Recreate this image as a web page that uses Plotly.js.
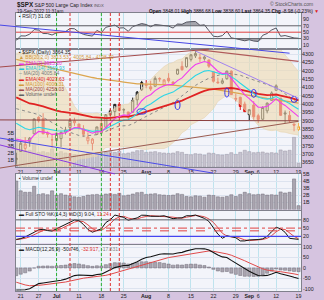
<!DOCTYPE html>
<html><head><meta charset="utf-8">
<script src="https://cdn.plot.ly/plotly-3.0.1.min.js"></script>
<style>html,body{margin:0;padding:0;background:#d6c4e0;}#chart{width:324px;height:300px;}</style>
</head><body><div id="chart"></div>
<script>
// ---- history closes (Jan 3 - May 18, 2022), used only for indicator warm-up
const histClose = [4796.56,4793.54,4700.58,4696.05,4677.03,4670.29,4713.07,4726.35,4659.03,4662.85,4577.11,4532.76,4482.73,4397.94,4410.13,4356.45,4349.93,4326.51,4431.85,4515.55,
4546.54,4589.38,4477.44,4500.53,4483.87,4521.54,4587.18,4504.08,4418.64,4401.67,4471.07,4475.01,4380.26,4348.87,4304.76,4225.50,4288.70,4384.65,4373.94,
4306.26,4386.54,4363.49,4328.87,4201.09,4170.70,4277.88,4259.52,4204.31,4173.11,4262.45,4357.86,4411.67,4463.12,4461.18,4511.61,4456.24,4520.16,4543.06,4575.52,4631.60,4602.45,4530.41,
4545.86,4582.64,4525.12,4481.15,4500.21,4488.28,4412.53,4397.45,4446.59,4392.59,4391.69,4462.21,4459.45,4393.66,4271.78,4296.12,4175.20,4183.96,4287.50,4131.93,
4155.38,4175.48,4300.17,4146.87,4123.34,3991.24,4001.05,3935.18,3930.08,4023.89,4008.01,4088.85,3923.68];
// ---- May 19 - Jun 16, 2022
const preDates = ['2022-05-19','2022-05-20','2022-05-23','2022-05-24','2022-05-25','2022-05-26','2022-05-27','2022-05-31','2022-06-01','2022-06-02','2022-06-03','2022-06-06','2022-06-07','2022-06-08','2022-06-09','2022-06-10','2022-06-13','2022-06-14','2022-06-15','2022-06-16'];
const preHigh = [3945.96,3943.42,3981.88,3955.68,3999.33,4075.14,4158.49,4168.34,4166.54,4177.51,4142.67,4168.78,4164.86,4160.14,4119.10,3974.39,3838.15,3778.18,3837.56,3728.18];
const preLow = [3876.17,3810.32,3909.04,3875.13,3925.03,3984.60,4077.43,4104.88,4073.85,4074.37,4098.67,4109.18,4080.19,4107.20,4017.17,3900.16,3734.30,3724.57,3722.30,3639.77];
const preClose = [3900.79,3901.36,3973.75,3941.48,3978.73,4057.84,4158.24,4132.15,4101.23,4176.82,4108.54,4121.43,4160.68,4115.77,4017.82,3900.86,3749.63,3735.48,3789.99,3666.77];
// ---- displayed days
const dates = ['2022-06-17','2022-06-21','2022-06-22','2022-06-23','2022-06-24','2022-06-27','2022-06-28','2022-06-29','2022-06-30','2022-07-01','2022-07-05','2022-07-06','2022-07-07','2022-07-08','2022-07-11','2022-07-12','2022-07-13','2022-07-14','2022-07-15','2022-07-18','2022-07-19','2022-07-20','2022-07-21','2022-07-22','2022-07-25','2022-07-26','2022-07-27','2022-07-28','2022-07-29','2022-08-01','2022-08-02','2022-08-03','2022-08-04','2022-08-05','2022-08-08','2022-08-09','2022-08-10','2022-08-11','2022-08-12','2022-08-15','2022-08-16','2022-08-17','2022-08-18','2022-08-19','2022-08-22','2022-08-23','2022-08-24','2022-08-25','2022-08-26','2022-08-29','2022-08-30','2022-08-31','2022-09-01','2022-09-02','2022-09-06','2022-09-07','2022-09-08','2022-09-09','2022-09-12','2022-09-13','2022-09-14','2022-09-15','2022-09-16','2022-09-19'];
const open = [3665.90,3715.31,3733.89,3774.71,3821.75,3920.76,3913.00,3825.09,3785.99,3781.00,3792.61,3831.98,3858.85,3888.26,3880.94,3851.95,3779.67,3763.99,3818.00,3883.79,3860.73,3935.32,3955.47,3998.43,3965.72,3953.22,3951.43,4026.13,4087.33,4112.38,4104.21,4107.96,4154.85,4115.87,4155.93,4133.11,4181.02,4227.40,4225.02,4269.37,4290.46,4280.40,4273.13,4266.31,4195.08,4133.09,4126.55,4153.26,4198.74,4034.58,4041.25,4000.67,3936.73,3994.66,3930.89,3909.43,3959.94,4022.94,4083.67,4037.12,3940.73,3932.41,3880.95,3848.01];
const high = [3707.71,3779.65,3801.79,3802.58,3913.65,3927.72,3945.86,3836.50,3818.99,3829.82,3832.19,3863.62,3910.63,3918.50,3880.94,3873.41,3829.44,3796.41,3863.62,3902.44,3939.81,3974.13,3999.29,4012.44,3975.30,3953.22,4039.56,4078.95,4140.15,4144.95,4140.47,4167.66,4161.29,4151.58,4186.62,4137.30,4211.03,4257.91,4280.47,4301.79,4325.28,4302.18,4292.53,4266.31,4195.08,4159.77,4156.56,4200.54,4203.04,4062.99,4044.98,4015.37,3970.23,4018.43,3942.55,3987.89,4010.50,4076.81,4119.28,4037.12,3961.94,3959.14,3880.95,3886.68];
const low = [3636.87,3715.31,3717.69,3743.52,3821.75,3889.66,3820.14,3799.02,3738.67,3752.10,3742.06,3817.18,3858.85,3869.34,3847.22,3802.36,3759.07,3721.56,3817.18,3818.63,3860.73,3922.03,3927.64,3955.77,3943.46,3910.74,3951.43,3992.97,4079.22,4096.02,4079.81,4107.96,4135.42,4107.31,4128.97,4112.09,4177.26,4201.41,4219.78,4256.90,4277.77,4253.08,4261.98,4218.70,4129.86,4124.03,4119.97,4147.59,4057.66,4017.42,3965.21,3954.53,3903.65,3906.21,3886.75,3906.03,3944.81,4022.94,4083.67,3932.41,3886.13,3888.28,3837.08,3838.60];
const close = [3674.84,3764.79,3759.89,3795.73,3911.74,3900.11,3821.55,3818.83,3785.38,3825.33,3831.39,3845.08,3902.62,3899.38,3854.43,3818.80,3801.78,3790.38,3863.16,3830.85,3936.69,3959.90,3998.95,3961.63,3966.84,3921.05,4023.61,4072.43,4130.29,4118.63,4091.19,4155.17,4151.94,4145.19,4140.06,4122.47,4210.24,4207.27,4280.15,4297.14,4305.20,4274.04,4283.74,4228.48,4137.99,4128.73,4140.77,4199.12,4057.66,4030.61,3986.16,3955.00,3966.85,3924.26,3908.19,3979.87,4006.18,4067.36,4110.41,3932.69,3946.01,3901.35,3873.33,3864.35];
// volume, billions of shares
const volumeB = [4.05,2.65,2.45,2.45,3.30,2.15,2.25,2.10,2.65,2.05,2.25,2.05,1.95,1.80,1.75,1.85,2.05,2.10,2.15,2.05,2.20,2.25,2.15,2.30,1.95,2.05,2.20,2.40,2.45,2.15,2.20,2.25,2.10,2.05,2.00,2.05,2.25,2.15,1.85,1.80,1.95,1.90,1.75,2.05,2.00,1.80,1.75,1.85,2.10,1.85,2.15,2.45,2.25,2.10,2.15,2.20,2.05,2.10,2.05,2.50,2.35,2.45,4.35,0.55];
// 200-day MA (only the part inside the panel)
const ma200 = [null,null,null,null,null,null,null,null,null,null,null,null,null,null,null,null,null,null,null,null,null,null,null,null,null,null,null,null,null,null,null,null,null,null,null,null,null,
4339,4336,4332,4329,4326,4324,4321,4318,4315,4311,4308,4306,4302,4299,4297,4293,4290,4287,4285,4282,4278,4275,4272,4268,4265,4261,4258];
// x axis labels
const tickDates = ['2022-06-21','2022-06-27','2022-07-01','2022-07-11','2022-07-18','2022-07-25','2022-08-01','2022-08-08','2022-08-15','2022-08-22','2022-08-29','2022-09-01','2022-09-06','2022-09-12','2022-09-19'];
const tickLabels = ['21','27','<b>Jul</b>','11','18','25','<b>Aug</b>','8','15','22','29','<b>Sep</b>','6','12','19'];
// chart annotations
const greenLineDates = ['2022-07-01','2022-07-18'];
const redLineDates = ['2022-07-07','2022-07-20','2022-07-22'];
const circleDates = ['2022-07-29','2022-08-10','2022-08-25','2022-09-02','2022-09-16'];
const circleValues = [3956,3995,4070,4065,4029];
const trendPanels = ['rsi','main','main','main','main','main','main'];
const trendFrom = [['2022-06-17',67.3],['2022-06-17',4232],['2022-06-17',3905],['2022-06-17',3631],['2022-06-17',3780],['2022-06-17',3730],['2022-08-16',4320]];
const trendTo = [['2022-09-15',-15.7],['2022-08-19',4331],['2022-09-19',3900],['2022-09-19',3897],['2022-08-22',3585],['2022-07-21',3580],['2022-09-19',4035]];

// ---------------- computations ----------------
const allClose = histClose.concat(preClose, close);
const off = histClose.length + preClose.length;
const N = dates.length;
const xs = dates.map((d,k)=>k);
function emaSeries(src,n){const a=2/(n+1);const out=[];let e=src[0];src.forEach((v,k)=>{e=k?e+a*(v-e):v;out.push(e);});return out;}
function smaAt(src,k,n){if(k<n-1)return null;let s=0;for(let j=k-n+1;j<=k;j++)s+=src[j];return s/n;}
function sdAt(src,k,n,m){let s=0;for(let j=k-n+1;j<=k;j++)s+=(src[j]-m)*(src[j]-m);return Math.sqrt(s/n);}
const disp = a => a.slice(off);
const e7 = disp(emaSeries(allClose,7)), e14 = disp(emaSeries(allClose,14)), e40 = disp(emaSeries(allClose,40));
const ma20 = xs.map(k=>smaAt(allClose,k+off,20));
const ma100 = xs.map(k=>smaAt(allClose,k+off,100));
const bbUp = xs.map(k=>ma20[k]+2*sdAt(allClose,k+off,20,ma20[k]));
const bbLo = xs.map(k=>ma20[k]-2*sdAt(allClose,k+off,20,ma20[k]));
// RSI(7)
const rsiAll=[];let ag=0,al=0;
for(let k=0;k<allClose.length;k++){
  if(k===0){rsiAll.push(null);continue;}
  const ch=allClose[k]-allClose[k-1],g=Math.max(ch,0),l=Math.max(-ch,0);
  if(k<=7){ag+=g/7;al+=l/7;rsiAll.push(k===7?100-100/(1+ag/al):null);}
  else{ag=(ag*6+g)/7;al=(al*6+l)/7;rsiAll.push(100-100/(1+ag/al));}
}
const rsi = disp(rsiAll);
// MACD
const e12a=emaSeries(allClose,12), e26a=emaSeries(allClose,26);
const macdAll=e12a.map((v,k)=>v-e26a[k]);
const sigAll=emaSeries(macdAll,9);
const macd=disp(macdAll), sig=disp(sigAll), macdHist=macd.map((v,k)=>v-sig[k]);
// Full STO 14,3,3
const hH=preHigh.concat(high), hL=preLow.concat(low), hC=preClose.concat(close);
const fastK=hC.map((c,k)=>{if(k<13)return null;let hh=-1e9,ll=1e9;for(let j=k-13;j<=k;j++){hh=Math.max(hh,hH[j]);ll=Math.min(ll,hL[j]);}return 100*(c-ll)/(hh-ll);});
const sma3=a=>a.map((v,k)=>(k>=2&&a[k]!=null&&a[k-1]!=null&&a[k-2]!=null)?(a[k]+a[k-1]+a[k-2])/3:null);
const fullK=sma3(fastK), fullD=sma3(fullK);
const stoK=fullK.slice(preClose.length), stoD=fullD.slice(preClose.length);

// ---------------- layout geometry ----------------
const L=16,R=301,T=13,B=291;
const pX=x=>(x-L)/(R-L), pY=y=>(B-y)/(B-T);
const xr=[-0.05,63.55];
const dom={rsi:[pY(48.5),1],main:[pY(167),pY(49)],vol:[pY(209.5),pY(174)],sto:[pY(243.5),pY(210.5)],macd:[0,pY(244.5)]};
const yr={rsi:[-1,110],main:[3622,4332],vol:[0,5.05],sto:[-6,114],macd:[-111,113]};
const tickvals=tickDates.map(d=>dates.indexOf(d));
const FONT='Liberation Sans, Arial, sans-serif';
const gridX='#bfe3ee', borderC='#80808c';

function xaxis(anchor,labels,extra){return Object.assign({domain:[0,1],anchor,range:xr,tickvals,ticktext:tickLabels,showticklabels:labels,ticks:'',
  showgrid:true,gridcolor:gridX,gridwidth:1,zeroline:false,showline:true,mirror:true,linecolor:borderC,linewidth:1,
  tickfont:{size:5.3,color:'#222',family:FONT},fixedrange:true,rangeslider:{visible:false}},extra||{});}
function yaxis(d,r,vals,text,extra){return Object.assign({domain:d,range:r,side:'right',tickvals:vals,ticktext:text,ticks:'',
  showgrid:false,gridcolor:'#dde3ef',zeroline:false,showline:true,mirror:true,linecolor:borderC,linewidth:1,
  tickfont:{size:5.3,color:'#222',family:FONT},fixedrange:true},extra||{});}

const priceTicks=[];for(let v=3650;v<=4300;v+=50)priceTicks.push(v);

const traces=[];
// overlay volume in price panel
traces.push({type:'bar',x:xs,y:volumeB,xaxis:'x2',yaxis:'y2',marker:{color:'#c6c3cf',line:{color:'#9d99a6',width:0.5}},hoverinfo:'skip'});
// Bollinger band
traces.push({type:'scatter',mode:'lines',x:xs,y:bbLo,xaxis:'x2',yaxis:'y6',line:{color:'#e6d3b0',width:0.6},hoverinfo:'skip'});
traces.push({type:'scatter',mode:'lines',x:xs,y:bbUp,xaxis:'x2',yaxis:'y6',fill:'tonexty',fillcolor:'rgba(238,218,178,0.62)',line:{color:'#e6d3b0',width:0.6},hoverinfo:'skip'});
const lineT=(y,c,w,dash)=>({type:'scatter',mode:'lines',x:xs,y,xaxis:'x2',yaxis:'y6',line:{color:c,width:w,dash:dash||'solid'},hoverinfo:'skip'});
traces.push(lineT(ma100,'#dca650',1.3));
traces.push(lineT(ma200,'#b05a5a',1.2));
traces.push(lineT(ma20,'#8a8a8a',1,'dot'));
traces.push(lineT(e40,'#e02222',1.8));
traces.push(lineT(e14,'#2cd6e6',1.1));
traces.push(lineT(e7,'#f03cf0',1.1));
// candles
const prevC=k=>k?close[k-1]:preClose[preClose.length-1];
function candle(idx,col){
  return {type:'candlestick',x:idx,open:idx.map(k=>open[k]),high:idx.map(k=>high[k]),low:idx.map(k=>low[k]),close:idx.map(k=>close[k]),
    xaxis:'x2',yaxis:'y6',whiskerwidth:0,hoverinfo:'skip',
    increasing:{line:{color:col,width:1},fillcolor:'#ffffff'},decreasing:{line:{color:col,width:1},fillcolor:col}};
}
traces.push(candle(xs.filter(k=>k<N-1&&close[k]>=prevC(k)),'#111111'));
traces.push(candle(xs.filter(k=>k<N-1&&close[k]<prevC(k)),'#e01818'));
traces.push(candle([N-1],'#f0a020'));
// RSI
traces.push({type:'scatter',mode:'lines',x:xs,y:xs.map(()=>70),xaxis:'x3',yaxis:'y3',line:{width:0},hoverinfo:'skip'});
traces.push({type:'scatter',mode:'lines',x:xs,y:rsi.map(v=>Math.max(v,70)),xaxis:'x3',yaxis:'y3',fill:'tonexty',fillcolor:'rgba(100,100,110,0.55)',line:{width:0},hoverinfo:'skip'});
traces.push({type:'scatter',mode:'lines',x:xs,y:xs.map(()=>30),xaxis:'x3',yaxis:'y3',line:{width:0},hoverinfo:'skip'});
traces.push({type:'scatter',mode:'lines',x:xs,y:rsi.map(v=>Math.min(v,30)),xaxis:'x3',yaxis:'y3',fill:'tonexty',fillcolor:'rgba(100,100,110,0.55)',line:{width:0},hoverinfo:'skip'});
traces.push({type:'scatter',mode:'lines',x:xs,y:rsi,xaxis:'x3',yaxis:'y3',line:{color:'#555560',width:1},hoverinfo:'skip'});
// volume panel
traces.push({type:'bar',x:xs,y:volumeB,xaxis:'x4',yaxis:'y4',marker:{color:'#aaa5b0',line:{color:'#6f6a76',width:0.5}},hoverinfo:'skip'});
// STO
traces.push({type:'scatter',mode:'lines',x:xs,y:stoD,xaxis:'x5',yaxis:'y5',line:{color:'#e04a4a',width:1},hoverinfo:'skip'});
traces.push({type:'scatter',mode:'lines',x:xs,y:stoK,xaxis:'x5',yaxis:'y5',line:{color:'#111',width:1},hoverinfo:'skip'});
// MACD
traces.push({type:'bar',x:xs,y:macdHist,xaxis:'x',yaxis:'y',marker:{color:'#aaa5b0',line:{color:'#6f6a76',width:0.5}},hoverinfo:'skip'});
traces.push({type:'scatter',mode:'lines',x:xs,y:sig,xaxis:'x',yaxis:'y',line:{color:'#e04a4a',width:1},hoverinfo:'skip'});
traces.push({type:'scatter',mode:'lines',x:xs,y:macd,xaxis:'x',yaxis:'y',line:{color:'#111',width:1.1},hoverinfo:'skip'});

// ---------------- shapes ----------------
const shapes=[];
const hline=(yref,v,c,w,dash)=>({type:'line',xref:'paper',x0:0,x1:1,yref,y0:v,y1:v,line:{color:c,width:w,dash:dash||'solid'},layer:'above'});
shapes.push(hline('y3',70,'#606068',1),hline('y3',50,'#e04040',1),hline('y3',30,'#606068',1));
shapes.push(hline('y5',80,'#606068',1),hline('y5',50,'#e04040',1,'dashdot'),hline('y5',40,'#e04040',1,'dash'),hline('y5',20,'#4545f0',1.2));
greenLineDates.forEach(d=>{const k=dates.indexOf(d);shapes.push({type:'line',xref:'x',x0:k,x1:k,yref:'paper',y0:0,y1:1,line:{color:'#30b030',width:1,dash:'3px,2px'},layer:'above'});});
redLineDates.forEach(d=>{const k=dates.indexOf(d);shapes.push({type:'line',xref:'x',x0:k,x1:k,yref:'paper',y0:0,y1:1,line:{color:'#e03030',width:1,dash:'3px,2px'},layer:'above'});});
const circW=[2.1,1.1,0.9,1.1,1.3], circH=[32,54,54,48,36];
circleDates.forEach((d,j)=>{const k=dates.indexOf(d);shapes.push({type:'circle',xref:'x2',yref:'y6',x0:k-circW[j]/2,x1:k+circW[j]/2,y0:circleValues[j]-circH[j]/2,y1:circleValues[j]+circH[j]/2,line:{color:'#3636ee',width:1},layer:'above'});});
const trendColors=['#4646e6','#a44a4a','#8c4040','#9a5a50','#4a4ae8','#8a3ae0','#a383f0'];
const trendExtend=[true,true,true,true,true,true,false];
function toPaper(panel,k,v){const d=dom[panel],r=yr[panel];return [(k-xr[0])/(xr[1]-xr[0]),d[0]+(v-r[0])/(r[1]-r[0])*(d[1]-d[0])];}
trendFrom.forEach((f,j)=>{
  let a=toPaper(trendPanels[j],dates.indexOf(f[0]),f[1]), b=toPaper(trendPanels[j],dates.indexOf(trendTo[j][0]),trendTo[j][1]);
  if(trendExtend[j]){const x0=-L/(R-L);const s=(b[1]-a[1])/(b[0]-a[0]);a=[x0,a[1]+s*(x0-a[0])];}
  shapes.push({type:'line',xref:'paper',yref:'paper',x0:a[0],y0:a[1],x1:b[0],y1:b[1],line:{color:trendColors[j],width:1},layer:'above'});
});

// ---------------- text ----------------
const ann=[];
const txt=(x,y,t,size,col,anchor)=>ann.push({xref:'paper',yref:'paper',x:pX(x),y:pY(y),text:t,showarrow:false,xanchor:anchor||'left',yanchor:'middle',font:{size:size,color:col||'#1a1a1a',family:FONT}});
txt(15,5,'<b><span style="font-size:6.3px">$SPX</span></b> S&amp;P 500 Large Cap Index <span style="font-size:4.2px;color:#555">INDX</span>',5);
txt(15,11,'19-Sep-2022 11:31am',4.7,'#222');
txt(315,4,'© StockCharts.com',5,'#555','right');
txt(321,11,'<b>Open</b> 3848.01 <b>High</b> 3886.68 <b>Low</b> 3838.60 <b>Last</b> 3864.35 <b>Chg</b> -8.98 (-0.23%) <span style="color:#e02020">▼</span>',4.8,'#111','right');
txt(17,15.5,'▪ RSI(7) 31.08',5,'#222');
const leg=[['▪ $SPX (Daily) 3864.35','#1a1a1a'],['▲ BB(20,2.0) 3813.53 - 4005.84 - 4198.30','#d49a3c'],['▬ EMA(7) 3925.20','#e832e8'],
 ['▬ EMA(14) '+e14[N-1].toFixed(2),'#1fc4d6'],['┄ MA(20) 4005.84','#7a7a7a'],['▬ EMA(40) 4027.63','#e01e1e'],['▬ MA(100) 4006.31','#d49a3c'],['▬ MA(200) 4258.03','#a04646'],['▬ Volume undef','#606060']];
leg.forEach((r,j)=>txt(17,52+j*5.3,r[0],5,r[1]));
txt(17,177.8,'▪ Volume undef',5,'#333');
txt(17,213.5,'▬ Full STO %K(14,3) %D(3) 9.04, <span style="color:#e03030">11.24</span>',5,'#222');
txt(17,248.5,'▬ MACD(12,26,9) -50.746, <span style="color:#e03030">-32.917</span>, <span style="color:#888">-17.831</span>',5,'#222');

const layout={
  width:324,height:300,margin:{l:L,r:324-R,t:T,b:300-B,pad:0},
  paper_bgcolor:'#d6c4e0',plot_bgcolor:'#f3f4fa',showlegend:false,
  bargap:0.3,boxgap:0.35,
  font:{family:FONT,size:5.3,color:'#222'},
  xaxis:xaxis('y',true),
  xaxis2:xaxis('y2',true,{matches:'x'}),
  xaxis3:xaxis('y3',false,{matches:'x'}),
  xaxis4:xaxis('y4',false,{matches:'x'}),
  xaxis5:xaxis('y5',false,{matches:'x'}),
  yaxis:yaxis(dom.macd,yr.macd,[100,50,0,-50,-100],['100','50','0','-50','-100'],{anchor:'x',showgrid:true}),
  yaxis2:yaxis(dom.main,[0,17.3],[1,2,3,4,5],['1B','2B','3B','4B','5B'],{anchor:'x2',side:'left'}),
  yaxis3:yaxis(dom.rsi,yr.rsi,[10,30,50,70,90],['10','30','50','70','90'],{anchor:'x3'}),
  yaxis4:yaxis(dom.vol,yr.vol,[1,2,3,4,5],['1B','2B','3B','4B','5B'],{anchor:'x4',showgrid:true}),
  yaxis5:yaxis(dom.sto,yr.sto,[20,50,80],['20','50','80'],{anchor:'x5'}),
  yaxis6:yaxis(dom.main,yr.main,priceTicks,priceTicks.map(String),{anchor:'x2',overlaying:'y2',showgrid:true,showline:false}),
  shapes,annotations:ann
};
Plotly.newPlot('chart',traces,layout,{staticPlot:true,displayModeBar:false});
</script></body></html>
